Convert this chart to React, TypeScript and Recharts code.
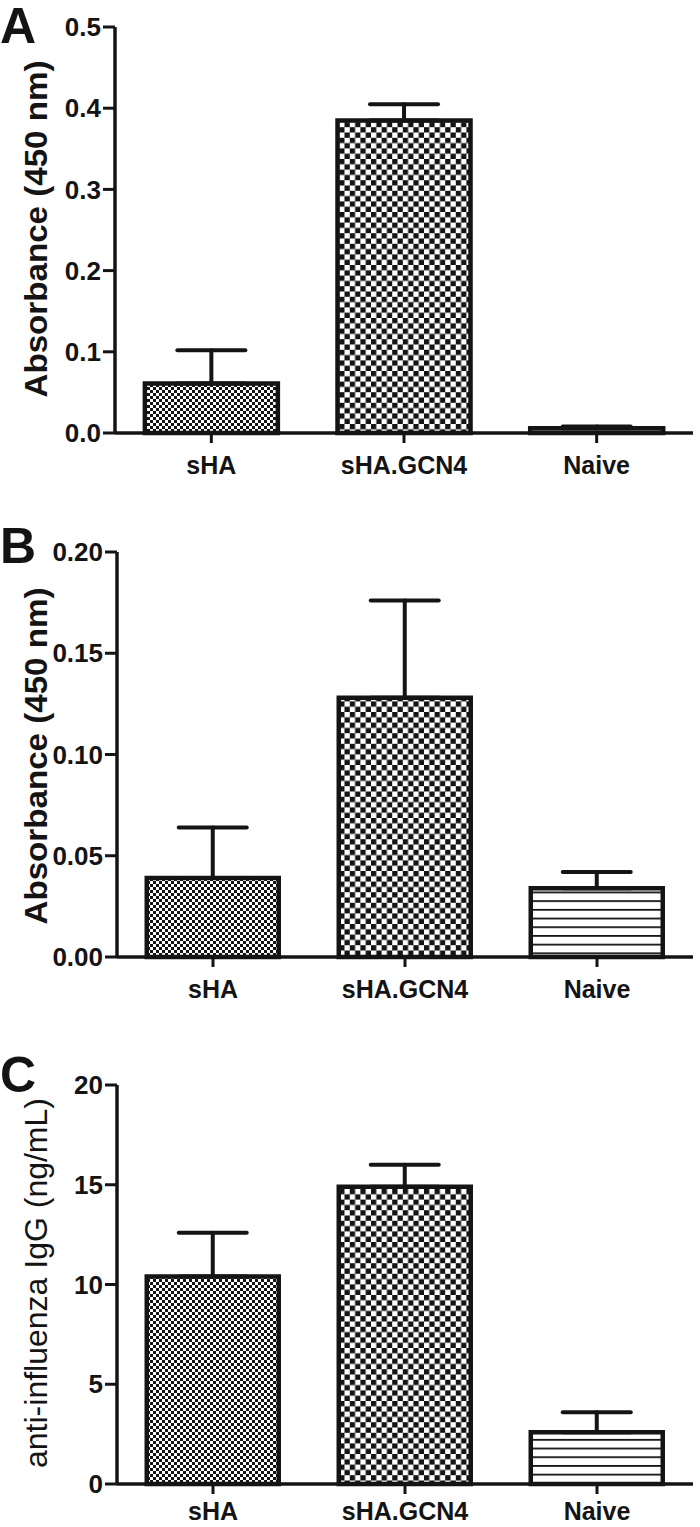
import React from 'react';
import {BarChart, Bar, XAxis, YAxis, ErrorBar, Cell, Label} from 'recharts';

// groups on the x axis (same in all three panels)
const categories = ['sHA', 'sHA.GCN4', 'Naive'];

// A: absorbance (450 nm), mean and upper error
const absorbanceA = [0.061, 0.385, 0.006];
const errorA = [0.041, 0.02, 0.002];
const ticksA = [0, 0.1, 0.2, 0.3, 0.4, 0.5];

// B: absorbance (450 nm)
const absorbanceB = [0.039, 0.128, 0.034];
const errorB = [0.025, 0.048, 0.008];
const ticksB = [0, 0.05, 0.1, 0.15, 0.2];

// C: anti-influenza IgG (ng/mL)
const iggC = [10.4, 14.9, 2.6];
const errorC = [2.2, 1.1, 1.0];
const ticksC = [0, 5, 10, 15, 20];

const INK = '#141414';
const FONT = '"Liberation Sans", Arial, Helvetica, sans-serif';
const fills = ['url(#fineCheck)', 'url(#bigCheck)', 'url(#hLines)'];

type PanelProps = {
  letter: string;
  letterTop: number;
  top: number;
  height: number;
  marginTop: number;
  xAxisHeight: number;
  axisWidth: number;
  values: number[];
  errors: number[];
  ticks: number[];
  digits: number;
  yLabel: string;
  labelBold: boolean;
  labelSize: number;
  labelLength?: number;
  labelY: number;
  xLabelDy: number;
};

const Panel: React.FC<PanelProps> = ({
  letter,
  letterTop,
  top,
  height,
  marginTop,
  xAxisHeight,
  axisWidth,
  values,
  errors,
  ticks,
  digits,
  yLabel,
  labelBold,
  labelSize,
  labelLength,
  labelY,
  xLabelDy,
}) => {
  const data = categories.map((name, i) => ({
    name,
    value: values[i],
    err: [0, errors[i]],
  }));

  const xTick = (props: any) => (
    <text
      x={props.x}
      y={props.y}
      dy={xLabelDy}
      textAnchor='middle'
      fontFamily={FONT}
      fontWeight='bold'
      fontSize={25}
      fill={INK}
    >
      {props.payload.value}
    </text>
  );

  return (
    <div style={{position: 'absolute', left: 0, top, width: 700, height}}>
      <BarChart
        width={700}
        height={height}
        data={data}
        margin={{top: marginTop, right: 7, left: 0, bottom: 0}}
        barCategoryGap='15.5%'
      >
        <XAxis
          dataKey='name'
          height={xAxisHeight}
          interval={0}
          axisLine={{stroke: INK, strokeWidth: 3.5}}
          tickLine={{stroke: INK, strokeWidth: 3}}
          tickSize={10}
          tick={xTick}
        />
        <YAxis
          width={axisWidth}
          domain={[ticks[0], ticks[ticks.length - 1]]}
          ticks={ticks}
          interval={0}
          tickFormatter={(v: number) => v.toFixed(digits)}
          axisLine={{stroke: INK, strokeWidth: 3.5}}
          tickLine={{stroke: INK, strokeWidth: 3}}
          tickSize={12}
          tick={{fontFamily: FONT, fontWeight: 'bold', fontSize: 26, fill: INK}}
        >
          <Label
            content={() => (
              <text
                x={36}
                y={labelY}
                transform={`rotate(-90, 36, ${labelY})`}
                textAnchor='middle'
                dominantBaseline='central'
                fontFamily={FONT}
                fontWeight={labelBold ? 'bold' : 'normal'}
                fontSize={labelSize}
                textLength={labelLength}
                lengthAdjust={labelLength ? 'spacingAndGlyphs' : undefined}
                fill={INK}
              >
                {yLabel}
              </text>
            )}
          />
        </YAxis>
        <Bar dataKey='value' stroke={INK} strokeWidth={4.5} isAnimationActive={false}>
          {data.map((d, i) => (
            <Cell key={d.name} fill={fills[i]} />
          ))}
          <ErrorBar dataKey='err' direction='y' width={34} stroke={INK} strokeWidth={4} strokeLinecap='round' />
        </Bar>
      </BarChart>
      <div
        style={{
          position: 'absolute',
          left: 0,
          top: letterTop,
          fontFamily: FONT,
          fontWeight: 'bold',
          fontSize: 50,
          lineHeight: 1,
          color: INK,
        }}
      >
        {letter}
      </div>
    </div>
  );
};

export default function App() {
  return (
    <div style={{position: 'absolute', left: 0, top: 0, width: 700, height: 1527, background: '#fff'}}>
      <svg width={0} height={0} style={{position: 'absolute'}}>
        <defs>
          <pattern id='fineCheck' width={6} height={6} patternUnits='userSpaceOnUse'>
            <rect width={6} height={6} fill='#fff' />
            <rect width={3} height={3} fill={INK} />
            <rect x={3} y={3} width={3} height={3} fill={INK} />
          </pattern>
          <pattern id='bigCheck' width={10.6} height={10.6} patternUnits='userSpaceOnUse'>
            <rect width={10.6} height={10.6} fill='#fff' />
            <rect width={5.3} height={5.3} fill={INK} />
            <rect x={5.3} y={5.3} width={5.3} height={5.3} fill={INK} />
          </pattern>
          <pattern id='hLines' width={10} height={8.7} patternUnits='userSpaceOnUse'>
            <rect width={10} height={8.7} fill='#fff' />
            <rect width={10} height={1.8} fill={INK} />
          </pattern>
        </defs>
      </svg>
      <Panel
        letter='A'
        letterTop={1}
        top={0}
        height={500}
        marginTop={27}
        xAxisHeight={67}
        axisWidth={115}
        values={absorbanceA}
        errors={errorA}
        ticks={ticksA}
        digits={1}
        yLabel='Absorbance (450 nm)'
        labelBold
        labelSize={31}
        labelLength={337}
        labelY={229}
        xLabelDy={29}
      />
      <Panel
        letter='B'
        letterTop={21}
        top={500}
        height={520}
        marginTop={52}
        xAxisHeight={63}
        axisWidth={117}
        values={absorbanceB}
        errors={errorB}
        ticks={ticksB}
        digits={2}
        yLabel='Absorbance (450 nm)'
        labelBold
        labelSize={31}
        labelLength={337}
        labelY={256}
        xLabelDy={29}
      />
      <Panel
        letter='C'
        letterTop={20}
        top={1030}
        height={497}
        marginTop={55}
        xAxisHeight={43}
        axisWidth={117}
        values={iggC}
        errors={errorC}
        ticks={ticksC}
        digits={0}
        yLabel='anti-influenza IgG (ng/mL)'
        labelBold={false}
        labelSize={32}
        labelY={253}
        xLabelDy={24}
      />
    </div>
  );
}
